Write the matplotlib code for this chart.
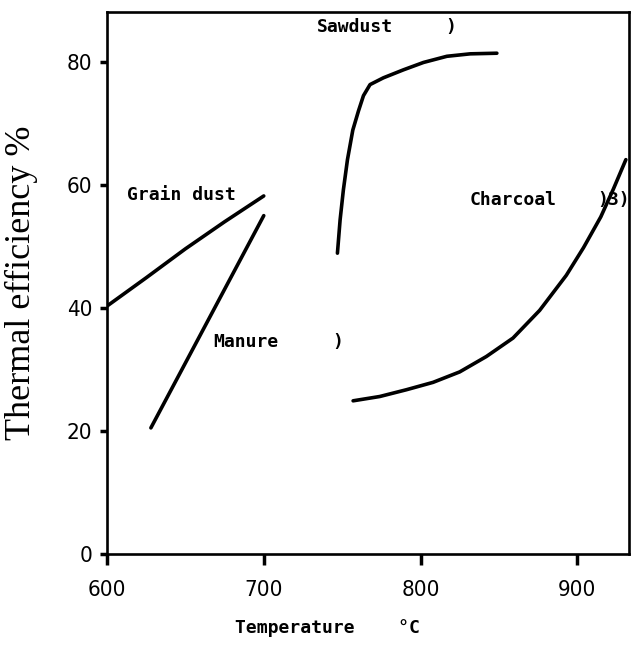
import numpy as np
import matplotlib
matplotlib.use("Agg")
import matplotlib.pyplot as plt
from matplotlib import font_manager

# curves
grain_x = [600, 625, 650, 675, 700]
grain_y = [40.3, 44.9, 49.6, 54.0, 58.2]

manure_x = [628, 700]
manure_y = [20.5, 55.0]

sawdust_x = [747.0, 748.7, 750.8, 753.4, 756.8, 760.4, 763.6, 767.8, 776.3, 789.1, 801.9, 816.8, 831.7, 848.7]
sawdust_y = [48.9, 54.3, 59.2, 64.1, 68.9, 72.0, 74.5, 76.3, 77.4, 78.7, 79.9, 80.9, 81.3, 81.4]

charcoal_x = [757, 774, 791, 808, 825, 842, 859, 876, 893, 904, 915, 923, 931]
charcoal_y = [24.9, 25.6, 26.7, 27.9, 29.6, 32.1, 35.1, 39.6, 45.3, 49.8, 54.8, 59.3, 64.1]

xticks = [600, 700, 800, 900]
yticks = [0, 20, 40, 60, 80]


def tick_font():
    # narrow sans for the tick numbers if we have it
    try:
        font_manager.findfont(font_manager.FontProperties(family="Liberation Sans Narrow"),
                              fallback_to_default=False)
        return {"family": "Liberation Sans Narrow"}
    except ValueError:
        return {"family": "DejaVu Sans", "stretch": "condensed"}


fig = plt.figure(figsize=(6.32, 6.46), dpi=100)
ax = fig.add_axes([107 / 632, 92 / 646, 522 / 632, 542 / 646])

lw = 2.6
for xs, ys in [(grain_x, grain_y), (manure_x, manure_y),
               (sawdust_x, sawdust_y), (charcoal_x, charcoal_y)]:
    ax.plot(xs, ys, color="black", lw=lw, solid_capstyle="round", solid_joinstyle="round")

ax.set_xlim(600, 933)
ax.set_ylim(0, 88.1)
ax.set_xticks(xticks)
ax.set_yticks(yticks)

tf = tick_font()
ax.set_xticklabels([str(t) for t in xticks], fontsize=16, **tf)
ax.set_yticklabels([str(t) for t in yticks], fontsize=16, **tf)
ax.tick_params(axis="x", direction="out", length=8, width=2.5, pad=11)
ax.tick_params(axis="y", direction="out", length=5, width=2.5, pad=5.5)

for sp in ax.spines.values():
    sp.set_linewidth(1.9)

mono = {"family": "DejaVu Sans Mono", "fontsize": 13, "fontweight": "bold",
        "va": "center", "ha": "left"}
ax.text(612.8, 58.4, "Grain dust", **mono)
ax.text(667.6, 34.5, "Manure", **mono)
ax.text(743.6, 34.5, ")", **mono)
ax.text(734, 85.7, "Sawdust", **mono)
ax.text(815.7, 85.7, ")", **mono)
ax.text(831.6, 57.6, "Charcoal", **mono)
ax.text(912.7, 57.6, ")3)", **mono)

ax.set_ylabel("Thermal efficiency %", family="Liberation Serif", fontsize=26)
ax.yaxis.set_label_coords(-0.132, 0.5)
ax.set_xlabel("Temperature    \u00b0C", family="DejaVu Sans Mono", fontsize=13,
              fontweight="bold")
ax.xaxis.set_label_coords(0.422, -0.12)

fig.savefig("out.png", dpi=100)
